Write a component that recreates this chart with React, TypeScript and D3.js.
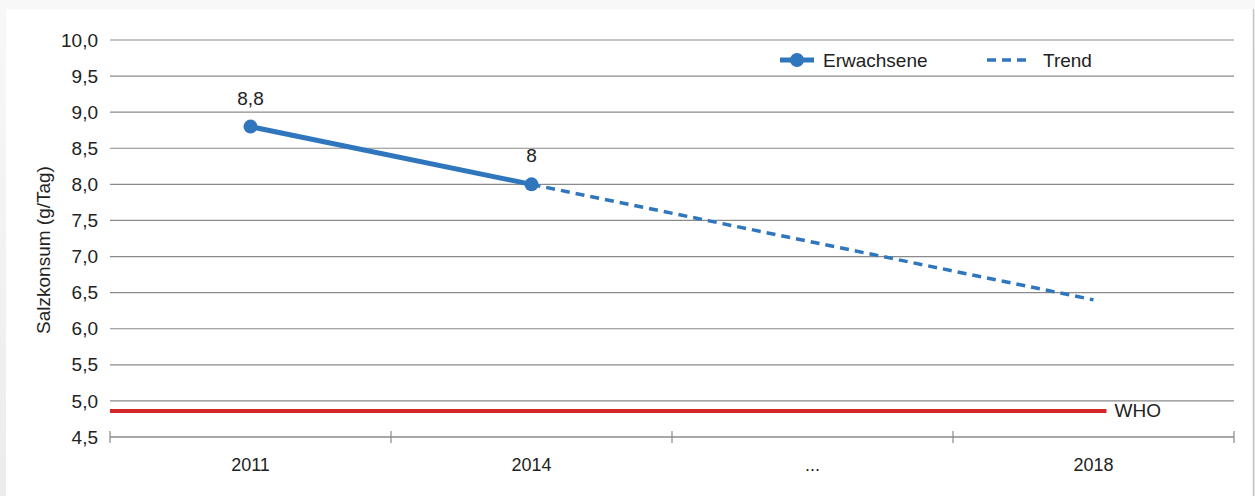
import { useEffect, useRef } from 'react';
import * as d3 from 'd3';

const WIDTH = 1255;
const HEIGHT = 496;
const MARGIN = { top: 40, right: 21, bottom: 59, left: 110 };

const categories = ['2011', '2014', '...', '2018'];
const adultValues = [
  { year: '2011', value: 8.8, label: '8,8' },
  { year: '2014', value: 8.0, label: '8' },
];
const trendValues = [
  { year: '2014', value: 8.0 },
  { year: '2018', value: 6.4 },
];
const whoValue = 4.86;
const yTicks = [4.5, 5, 5.5, 6, 6.5, 7, 7.5, 8, 8.5, 9, 9.5, 10];

const BLUE = '#2f76bd';
const RED = '#d3282a';
const GRID = '#8a8a8a';
const FONT = '"Liberation Sans", Arial, sans-serif';

type Pt = { year: string; value: number };

const App = () => {
  const axesRef = useRef(null);
  const boundsWidth = WIDTH - MARGIN.left - MARGIN.right;
  const boundsHeight = HEIGHT - MARGIN.top - MARGIN.bottom;

  const xScale = d3.scaleBand().domain(categories).range([0, boundsWidth]);
  const yScale = d3.scaleLinear().domain([4.5, 10]).range([boundsHeight, 0]);
  const xc = (c: string) => (xScale(c) || 0) + xScale.bandwidth() / 2;

  // axes drawn by d3
  useEffect(() => {
    const g = d3.select(axesRef.current);
    g.selectAll('*').remove();

    const yAxis = g.append('g').call(
      d3
        .axisLeft(yScale)
        .tickValues(yTicks)
        .tickSize(0)
        .tickPadding(12)
        .tickFormat((d) => d3.format('.1f')(d as number).replace('.', ','))
    );
    yAxis.select('.domain').remove();
    yAxis
      .selectAll('text')
      .attr('font-family', FONT)
      .attr('font-size', 19)
      .attr('fill', '#222');

    const xAxis = g
      .append('g')
      .attr('transform', `translate(0,${boundsHeight})`)
      .call(d3.axisBottom(xScale).tickSize(0).tickPadding(21));
    xAxis.select('.domain').remove();
    xAxis
      .selectAll('text')
      .attr('font-family', FONT)
      .attr('font-size', 18)
      .attr('fill', '#222');

    // tick marks on the category boundaries
    const bounds = categories.map((c) => xScale(c) || 0).concat([boundsWidth]);
    g.append('g')
      .selectAll('line')
      .data(bounds)
      .join('line')
      .attr('x1', (d) => d)
      .attr('x2', (d) => d)
      .attr('y1', boundsHeight - 6)
      .attr('y2', boundsHeight + 6)
      .attr('stroke', GRID)
      .attr('stroke-width', 1.2);
  }, []);

  const line = d3
    .line<Pt>()
    .x((d) => xc(d.year))
    .y((d) => yScale(d.value));

  return (
    <svg
      width={WIDTH}
      height={HEIGHT}
      style={{ position: 'absolute', left: 0, top: 0 }}
    >
      <defs>
        <linearGradient id="shTop" x1="0" y1="0" x2="0" y2="1">
          <stop offset="0" stopColor="#f8f8f8" />
          <stop offset="1" stopColor="#ececec" />
        </linearGradient>
      </defs>
      <rect x={0} y={0} width={WIDTH} height={HEIGHT} fill="url(#shTop)" />
      <rect x={6} y={9} width={1247} height={HEIGHT - 9} fill="#fff" />
      <line x1={1253.5} x2={1253.5} y1={9} y2={HEIGHT} stroke="#c4c4c4" strokeWidth={1.5} />

      <g transform={`translate(${MARGIN.left},${MARGIN.top})`}>
        {/* grid */}
        {yTicks.map((t) => (
          <line
            key={t}
            x1={0}
            x2={boundsWidth}
            y1={yScale(t)}
            y2={yScale(t)}
            stroke={GRID}
            strokeWidth={t === 4.5 ? 1.4 : 1.2}
          />
        ))}

        {/* WHO line */}
        <line
          x1={0}
          x2={xc('2018') + 13}
          y1={yScale(whoValue)}
          y2={yScale(whoValue)}
          stroke={RED}
          strokeWidth={4}
        />
        <text
          x={xc('2018') + 21}
          y={yScale(whoValue) + 6}
          fontFamily={FONT}
          fontSize={19}
          fill="#222"
        >
          WHO
        </text>

        {/* trend */}
        <path
          d={line(trendValues) || ''}
          fill="none"
          stroke={BLUE}
          strokeWidth={3.5}
          strokeDasharray="9,6"
        />

        {/* adults */}
        <path d={line(adultValues) || ''} fill="none" stroke={BLUE} strokeWidth={5} />
        {adultValues.map((d) => (
          <g key={d.year}>
            <circle cx={xc(d.year)} cy={yScale(d.value)} r={7} fill={BLUE} />
            <text
              x={xc(d.year)}
              y={yScale(d.value) - 22}
              textAnchor="middle"
              fontFamily={FONT}
              fontSize={19}
              fill="#222"
            >
              {d.label}
            </text>
          </g>
        ))}

        <g ref={axesRef} />
      </g>

      {/* y-axis title */}
      <text
        transform="translate(50,250) rotate(-90)"
        textAnchor="middle"
        fontFamily={FONT}
        fontSize={19}
        fill="#222"
      >
        Salzkonsum (g/Tag)
      </text>

      {/* legend */}
      <g fontFamily={FONT} fontSize={19} fill="#222">
        <line x1={780} x2={814} y1={60} y2={60} stroke={BLUE} strokeWidth={5} />
        <circle cx={797} cy={60} r={7} fill={BLUE} />
        <text x={823} y={67}>Erwachsene</text>
        <line
          x1={987}
          x2={1028}
          y1={60}
          y2={60}
          stroke={BLUE}
          strokeWidth={3.5}
          strokeDasharray="9,6"
        />
        <text x={1043} y={67}>Trend</text>
      </g>
    </svg>
  );
};

export default App;
